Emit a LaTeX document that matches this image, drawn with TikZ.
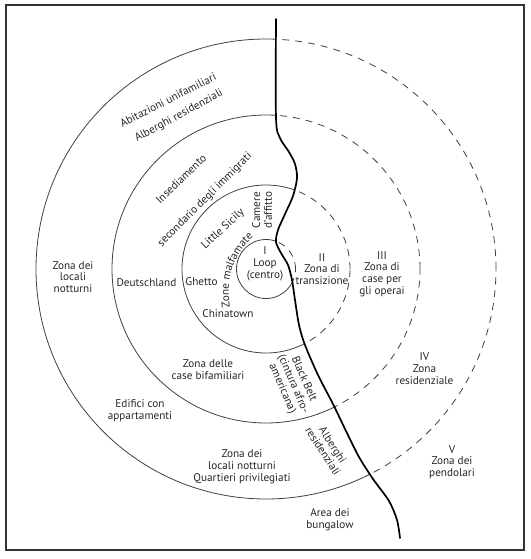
\documentclass[tikz,border=0pt]{standalone}
\usepackage{fontspec}
\setmainfont{PT Sans}
\usetikzlibrary{decorations.text}

% the river, top to bottom
\newcommand{\riverpath}{plot[smooth] coordinates {(276,19) (276,118) (280,138) (289,152) (295,164) (297,178) (293,196) (285,214) (278,230) (276,242) (281,253) (288,265) (292,280) (295,300) (299,325) (305,345) (318,375) (333,404) (346,431) (359,457) (373,479) (389,501) (397,520) (400,538)}}

\begin{document}
\begin{tikzpicture}[x=1pt,y=-1pt,
  ring/.style={draw=black!75,line width=0.8pt},
  dashring/.style={ring,dash pattern=on 7pt off 6pt},
  river/.style={line width=1.7pt,line cap=round},
  lbl/.style={inner sep=0pt,align=center,text=black!85,font=\fontsize{11.2}{11.8}\selectfont}]
  \useasboundingbox (0,0) rectangle (530,559);
  \draw[line width=1.6pt,black!80] (6,5) rectangle (524,550);
  \coordinate (c) at (266,269);

  % zones, solid west of the river
  \begin{scope}
    \clip \riverpath -- (400,559) -- (0,559) -- (0,0) -- (276,0) -- cycle;
    \foreach \r in {29.5,84,154,230}
      \draw[ring] (c) circle[radius=\r pt];
  \end{scope}
  % dashed east of it
  \begin{scope}
    \clip \riverpath -- (400,559) -- (530,559) -- (530,0) -- (276,0) -- cycle;
    \foreach \r in {29.5,84,154,230}
      \draw[dashring] (c) circle[radius=\r pt];
  \end{scope}
  \draw[river] \riverpath;

  % labels
  \node[lbl] (loop) at (265,264) {I\\Loop\\(centro)};
  \node[lbl] (trans) at (322,269) {II\\Zona di\\transizione};
  \node[lbl] (operai) at (382,274) {III\\Zona di\\case per\\gli operai};
  \node[lbl] (resid) at (424.5,368.5) {IV\\Zona\\residenziale};
  \node[lbl] (pend) at (452,462) {V\\Zona dei\\pendolari};

  \node[lbl,rotate=90] (camere) at (262,210) {Camere\\d'affitto};
  \node[lbl,rotate=43] (sicily) at (223,229) {Little Sicily};
  \node[lbl] (ghetto) at (201.5,282) {Ghetto};
  \node[lbl] (china) at (228,314) {Chinatown};
  \path[decorate,decoration={text along path,text align=center,text color=black!85,
    text={|\fontsize{11.2}{12}\selectfont|Zone malfamate}}]
    (230.5,311) .. controls (226.5,283) and (228,260) .. (256,234);

  \node[lbl,rotate=44] (insed) at (181,179) {Insediamento};
  \node[lbl,rotate=45] (second) at (205,200) {secondario degli immigrati};
  \node[lbl] (deutsch) at (146.5,283) {Deutschland};
  \node[lbl] (bifam) at (208,369.5) {Zona delle\\case bifamiliari};
  \node[lbl,rotate=-66.5] (black) at (293,384) {Black Belt\\(cintura afro-\\americana)};

  \node[lbl,rotate=27] (abit) at (168,100) {Abitazioni unifamiliari};
  \node[lbl,rotate=28.5] (albN) at (179,116) {Alberghi residenziali};
  \node[lbl] (locali) at (73,277) {Zona dei\\locali\\notturni};
  \node[lbl] (edif) at (140,411) {Edifici con\\appartamenti};
  \node[lbl] (quart) at (242,467) {Zona dei\\locali notturni\\Quartieri privilegiati};
  \node[lbl,rotate=-57] (albS) at (328,448) {Alberghi\\residenziali};
  \node[lbl] (bung) at (330,520) {Area dei\\bungalow};
\end{tikzpicture}
\end{document}
